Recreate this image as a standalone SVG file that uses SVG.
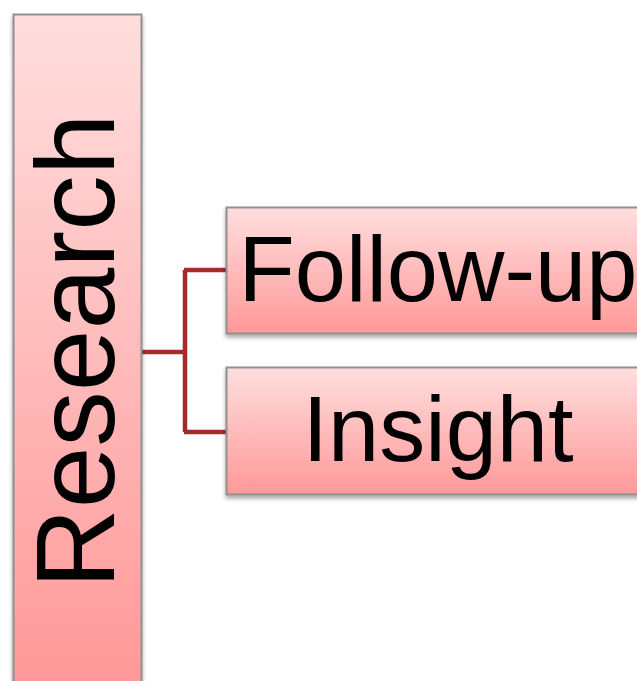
<svg xmlns="http://www.w3.org/2000/svg" width="637" height="681" viewBox="0 0 637 681">
<defs>
<linearGradient id="g" x1="0" y1="0" x2="0" y2="1">
<stop offset="0" stop-color="#FFDEDE"/>
<stop offset="1" stop-color="#FF9898"/>
</linearGradient>
<filter id="sh" x="-10%" y="-10%" width="120%" height="130%">
<feGaussianBlur in="SourceAlpha" stdDeviation="2"/>
<feOffset dx="0" dy="3" result="b"/>
<feComponentTransfer><feFuncA type="linear" slope="0.35"/></feComponentTransfer>
<feMerge><feMergeNode/><feMergeNode in="SourceGraphic"/></feMerge>
</filter>
</defs>
<style>
.box{fill:url(#g);stroke:#8f8f8f;stroke-width:2;filter:url(#sh)}
.t{font-family:"Liberation Sans",Arial,sans-serif;fill:#000}
.c{fill:none;stroke:#A52A2A;stroke-width:4.5}
</style>
<g id="connectors">
<path class="c" d="M142,352 H185 M185,270 V432 M184,270 H226 M184,432 H226"/>
</g>
<g id="research">
<rect class="box" x="13.5" y="14.5" width="128" height="674"/>
<text class="t" font-size="111" text-anchor="middle" transform="translate(114,351) rotate(-90)">Research</text>
</g>
<g id="followup">
<rect class="box" x="226.5" y="207.5" width="430" height="126"/>
<text class="t" font-size="92" text-anchor="middle" x="438" y="301">Follow-up</text>
</g>
<g id="insight">
<rect class="box" x="226.5" y="367.5" width="430" height="127"/>
<text class="t" font-size="92" text-anchor="middle" x="438" y="461">Insight</text>
</g>
</svg>
